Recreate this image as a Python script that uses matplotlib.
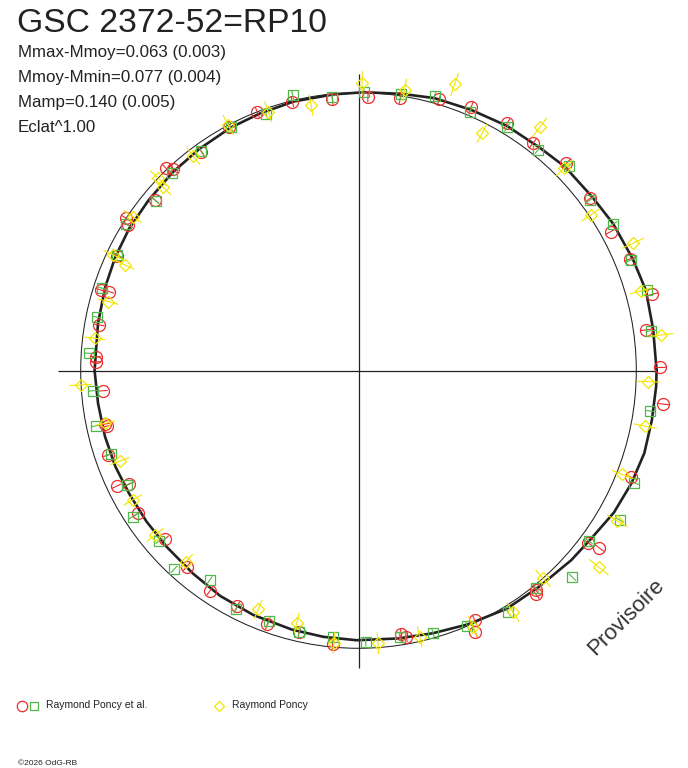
import numpy as np
import matplotlib.pyplot as plt
from matplotlib.patches import Circle
from matplotlib.lines import Line2D
from matplotlib.collections import LineCollection

plt.rcParams['font.family'] = ['Liberation Sans', 'DejaVu Sans']

W, H = 688, 768
# pixel position of the unit (mean magnitude) circle
CX, CY, R = 358.5, 370.5, 277.8

title = "GSC 2372-52=RP10"
info_lines = ["Mmax-Mmoy=0.063 (0.003)",
              "Mmoy-Mmin=0.077 (0.004)",
              "Mamp=0.140 (0.005)",
              "Eclat^1.00"]

# fitted light curve, phase angle (deg) and radius (unit = mean circle)
curve_angle = [0, 7.9, 15.6, 22.1, 30, 36.6, 44.7, 50.8, 58.8, 66.7, 74.4, 81,
               88.8, 95.2, 103.5, 111, 117.8, 125.7, 133.2, 141, 148.2, 155,
               161.7, 169.7, 180, 187.2, 194.6, 201.6, 208.3, 215.5, 222.6,
               230.8, 238.5, 246.7, 255.6, 262.5, 269.6, 278.4, 285.8, 293.3,
               301.9, 309.7, 318.3, 324, 330.9, 337.5, 343.9, 350.4, 356.9]
curve_r = [1.073, 1.071, 1.074, 1.066, 1.058, 1.048, 1.044, 1.034, 1.030, 1.022,
           1.018, 1.008, 1.002, 0.998, 0.996, 0.991, 0.988, 0.982, 0.978, 0.973,
           0.971, 0.966, 0.960, 0.953, 0.950, 0.945, 0.943, 0.941, 0.937, 0.937,
           0.938, 0.943, 0.952, 0.958, 0.963, 0.967, 0.971, 0.975, 0.983, 0.995,
           1.010, 1.014, 1.026, 1.033, 1.052, 1.063, 1.071, 1.071, 1.073]

# Raymond Poncy et al. (red circles)
red_x = [-0.238, -0.094, -0.364, -0.465, -0.566, -0.693, -0.667, -0.733, -0.837,
         -0.829, -0.868, -0.928, -0.898, -0.933, -0.945, -0.946, 0.034, 0.150,
         0.290, 0.406, 0.535, 0.628, 0.748, 0.834, 0.908, 0.976, 1.057, 1.034,
         1.086, -0.921, -0.913, -0.906, -0.901, -0.870, -0.825, -0.793, -0.697,
         -0.618, -0.535, -0.436, -0.328, -0.093, 1.096, 0.982, 0.826, 0.866,
         0.638, 0.638, 0.418, 0.420, 0.154, 0.172, -0.213]
red_y = [0.968, 0.976, 0.929, 0.875, 0.788, 0.728, 0.725, 0.614, 0.548, 0.524,
         0.413, 0.290, 0.284, 0.164, 0.050, 0.032, 0.986, 0.980, 0.976, 0.950,
         0.890, 0.818, 0.746, 0.620, 0.500, 0.401, 0.274, 0.146, 0.011, -0.073,
         -0.193, -0.200, -0.304, -0.416, -0.409, -0.514, -0.607, -0.706, -0.793,
         -0.848, -0.913, -0.985, -0.121, -0.384, -0.620, -0.638, -0.790, -0.805,
         -0.898, -0.942, -0.950, -0.958, -0.940]

# Raymond Poncy et al. (green squares)
green_x = [-0.237, -0.094, -0.333, -0.460, -0.566, -0.672, -0.730, -0.837, -0.868,
           -0.922, -0.942, -0.969, 0.019, 0.154, 0.274, 0.402, 0.535, 0.646,
           0.757, 0.834, 0.916, 0.982, 1.040, 1.054, -0.957, -0.945, -0.892,
           -0.834, -0.813, -0.718, -0.664, -0.535, -0.441, -0.322, -0.213, -0.091,
           1.050, 0.992, 0.940, 0.829, 0.770, 0.638, 0.538, 0.392, 0.268, 0.148,
           0.026]
green_y = [0.992, 0.983, 0.923, 0.875, 0.790, 0.712, 0.611, 0.527, 0.416, 0.296,
           0.192, 0.062, 1.004, 0.995, 0.989, 0.932, 0.875, 0.794, 0.736, 0.614,
           0.527, 0.398, 0.290, 0.143, -0.073, -0.199, -0.301, -0.412, -0.526,
           -0.613, -0.716, -0.754, -0.860, -0.901, -0.940, -0.960, -0.146, -0.404,
           -0.538, -0.614, -0.744, -0.782, -0.870, -0.920, -0.944, -0.958, -0.976]

# Raymond Poncy (yellow diamonds)
yellow_x = [-0.171, -0.325, -0.469, -0.595, -0.721, -0.703, -0.813, -0.841, -0.883,
            -0.901, -0.949, 0.013, 0.166, 0.346, 0.445, 0.652, 0.740, 0.836, 0.988,
            1.018, 1.090, -1.000, -0.913, -0.859, -0.813, -0.733, -0.621, -0.361,
            -0.222, -0.088, 1.042, 1.032, 0.950, 0.932, 0.865, 0.664, 0.556, 0.412,
            0.220, 0.070]
yellow_y = [0.956, 0.932, 0.884, 0.772, 0.692, 0.659, 0.554, 0.380, 0.416, 0.248,
            0.116, 1.036, 1.010, 1.030, 0.854, 0.875, 0.728, 0.560, 0.458, 0.287,
            0.128, -0.052, -0.190, -0.326, -0.466, -0.592, -0.688, -0.860, -0.908,
            -0.980, -0.040, -0.200, -0.374, -0.542, -0.708, -0.748, -0.870, -0.922,
            -0.958, -0.982]

RED, GREEN, YELLOW, INK = '#ee2c2c', '#4fb848', '#f2e600', '#222222'

fig = plt.figure(figsize=(W / 100, H / 100), dpi=100)
ax = fig.add_axes([0, 0, 1, 1])
ax.set_xlim(-CX / R, (W - CX) / R)
ax.set_ylim(-(H - CY) / R, CY / R)
ax.axis('off')

# mean circle and cross hair
ax.add_patch(Circle((0, 0), 1.0, fill=False, ec=INK, lw=0.75, zorder=2))
ax.hlines(0, -1.082, 1.075, color=INK, lw=0.9, zorder=2)
ax.vlines(0, -1.07, 1.068, color=INK, lw=0.9, zorder=2)

# fitted curve
a = np.deg2rad(curve_angle + curve_angle[:1])
r = np.array(curve_r + curve_r[:1])
ax.plot(r * np.cos(a), r * np.sin(a), color=INK, lw=1.9, zorder=3,
        solid_joinstyle='round')


def draw_series(xs, ys, marker, ms, color, err, z):
    xs, ys = np.asarray(xs), np.asarray(ys)
    segs = []
    for x, y in zip(xs, ys):
        segs.append([(x * (1 - err), y * (1 - err)), (x * (1 + err), y * (1 + err))])
    ax.add_collection(LineCollection(segs, colors=color, lw=0.8, zorder=z))
    ax.plot(xs, ys, ls='none', marker=marker, ms=ms, mfc='none', mec=color,
            mew=0.9, zorder=z)


draw_series(red_x, red_y, 'o', 8.6, RED, 0.02, 4)
draw_series(green_x, green_y, 's', 7.0, GREEN, 0.017, 5)
draw_series(yellow_x, yellow_y, 'D', 6.0, YELLOW, 0.04, 6)

# texts
fig.text(17 / W, 1 - 32 / H, title, fontsize=24.2, color=INK, va='baseline')
for i, line in enumerate(info_lines):
    fig.text(18 / W, 1 - (57 + 25 * i) / H, line, fontsize=12.2, color=INK,
             va='baseline')

fig.text(626 / W, 1 - 617 / H, "Provisoire", fontsize=16, color='#333333',
         rotation=45, ha='center', va='center', rotation_mode='anchor')

# legend
leg_y = 1 - 705.5 / H
fig.add_artist(Line2D([21.7 / W], [leg_y], transform=fig.transFigure, marker='o',
                      ms=7.5, mfc='none', mec=RED, mew=0.9))
fig.add_artist(Line2D([34 / W], [leg_y], transform=fig.transFigure, marker='s',
                      ms=5.2, mfc='none', mec=GREEN, mew=0.9))
fig.add_artist(Line2D([219.3 / W], [leg_y], transform=fig.transFigure, marker='D',
                      ms=5.2, mfc='none', mec=YELLOW, mew=0.9))
fig.text(46.5 / W, leg_y, "Raymond Poncy et al.", fontsize=7.5, color=INK,
         va='center')
fig.text(231.5 / W, leg_y, "Raymond Poncy", fontsize=7.5, color=INK, va='center')

fig.text(18 / W, 1 - 763.5 / H, "\u00a92026 OdG-RB", fontsize=6, color=INK,
         va='center')

fig.savefig('out.png', dpi=100, facecolor='white')
